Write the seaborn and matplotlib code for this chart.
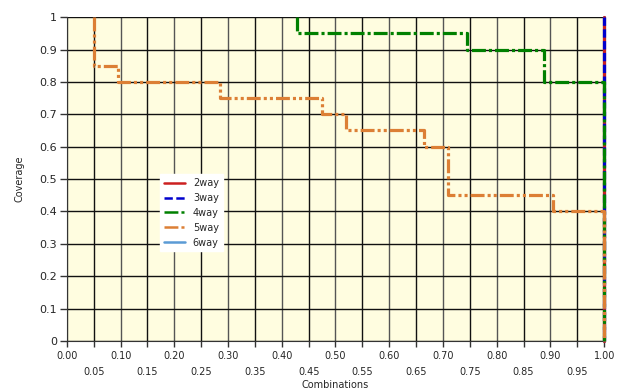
import matplotlib
matplotlib.use("Agg")
import matplotlib.pyplot as plt
import numpy as np
import pandas as pd
import seaborn as sns

# step corners (steps-post)
way2_x = [1.0, 1.0]
way2_y = [1.0, 0.0]
way3_x = [1.0, 1.0]
way3_y = [1.0, 0.0]
way4_x = [0.428, 0.428, 0.745, 0.888, 1.0, 1.0]
way4_y = [1.0, 0.95, 0.90, 0.80, 0.80, 0.0]
way5_x = [0.05, 0.05, 0.095, 0.285, 0.475, 0.52, 0.665, 0.71, 0.905, 1.0, 1.0]
way5_y = [1.0, 0.85, 0.80, 0.75, 0.70, 0.65, 0.60, 0.45, 0.40, 0.40, 0.0]
way6_x = [1.0, 1.0]
way6_y = [1.0, 0.0]

x_ticks = np.round(np.arange(0, 1.0001, 0.05), 2)
y_ticks = np.round(np.arange(0, 1.0001, 0.1), 1)
y_labels = ["0", "0.1", "0.2", "0.3", "0.4", "0.5", "0.6", "0.7", "0.8", "0.9", "1"]

series = [
    ("2way", way2_x, way2_y, "#CC2020", "-", 2),
    ("3way", way3_x, way3_y, "#0000CD", (0, (6, 2.5)), 3),
    ("4way", way4_x, way4_y, "#008000", (0, (10, 2.2, 2.2, 2.2)), 4),
    ("5way", way5_x, way5_y, "#DC7F35", (0, (10, 2.2, 2.2, 2.2, 2.2, 2.2)), 5),
    ("6way", way6_x, way6_y, "#5B9BD5", "-", 1),
]

sns.set_style("white")
plt.rcParams["font.family"] = ["DejaVu Sans"]
plt.rcParams["lines.scale_dashes"] = False

fig = plt.figure(figsize=(6.19, 3.89), dpi=100)
ax = fig.add_axes([0.108, 0.1234, 0.868, 0.8326])
ax.set_facecolor("#FFFDE0")

# grid drawn by hand so the colours can alternate
for i, xv in enumerate(x_ticks):
    ax.axvline(xv, color="#111111" if i % 2 else "#555555", lw=1, zorder=0.5)
for yv in y_ticks:
    ax.axhline(yv, color="#111111", lw=1, zorder=0.5)

for name, xs, ys, col, ls, z in series:
    df = pd.DataFrame({"x": xs, "y": ys})
    sns.lineplot(data=df, x="x", y="y", ax=ax, sort=False, estimator=None,
                 color=col, linestyle=ls, lw=2.3, drawstyle="steps-post",
                 label=name, zorder=z, clip_on=False)

ax.set_xlim(0, 1)
ax.set_ylim(0, 1)
ax.set_xticks(x_ticks)
ax.set_xticklabels([f"{v:.2f}" for v in x_ticks])
ax.set_yticks(y_ticks)
ax.set_yticklabels(y_labels)
ax.tick_params(axis="x", labelsize=7, length=4, width=1, color="#333333", pad=3,
               bottom=True)
ax.tick_params(axis="y", labelsize=8, length=5, width=1, color="#333333", pad=2,
               left=True)
for i, t in enumerate(ax.xaxis.get_major_ticks()):
    if i % 2:
        t.set_pad(15)

for s in ax.spines.values():
    s.set_visible(False)
ax.spines["left"].set_visible(True)
ax.spines["bottom"].set_visible(True)
ax.spines["left"].set_color("#333333")
ax.spines["bottom"].set_color("#333333")

ax.set_xlabel("Combinations", fontsize=7, labelpad=2)
ax.set_ylabel("Coverage", fontsize=7, labelpad=11)

leg = ax.legend(loc="upper left", bbox_to_anchor=(0.173, 0.515), borderaxespad=0,
                fontsize=7, handlelength=2.2, labelspacing=0.5, frameon=True,
                fancybox=False, facecolor="white", edgecolor="white", framealpha=1)
for h in leg.get_lines():
    h.set_linewidth(1.8)

fig.savefig("out.png", dpi=100)
